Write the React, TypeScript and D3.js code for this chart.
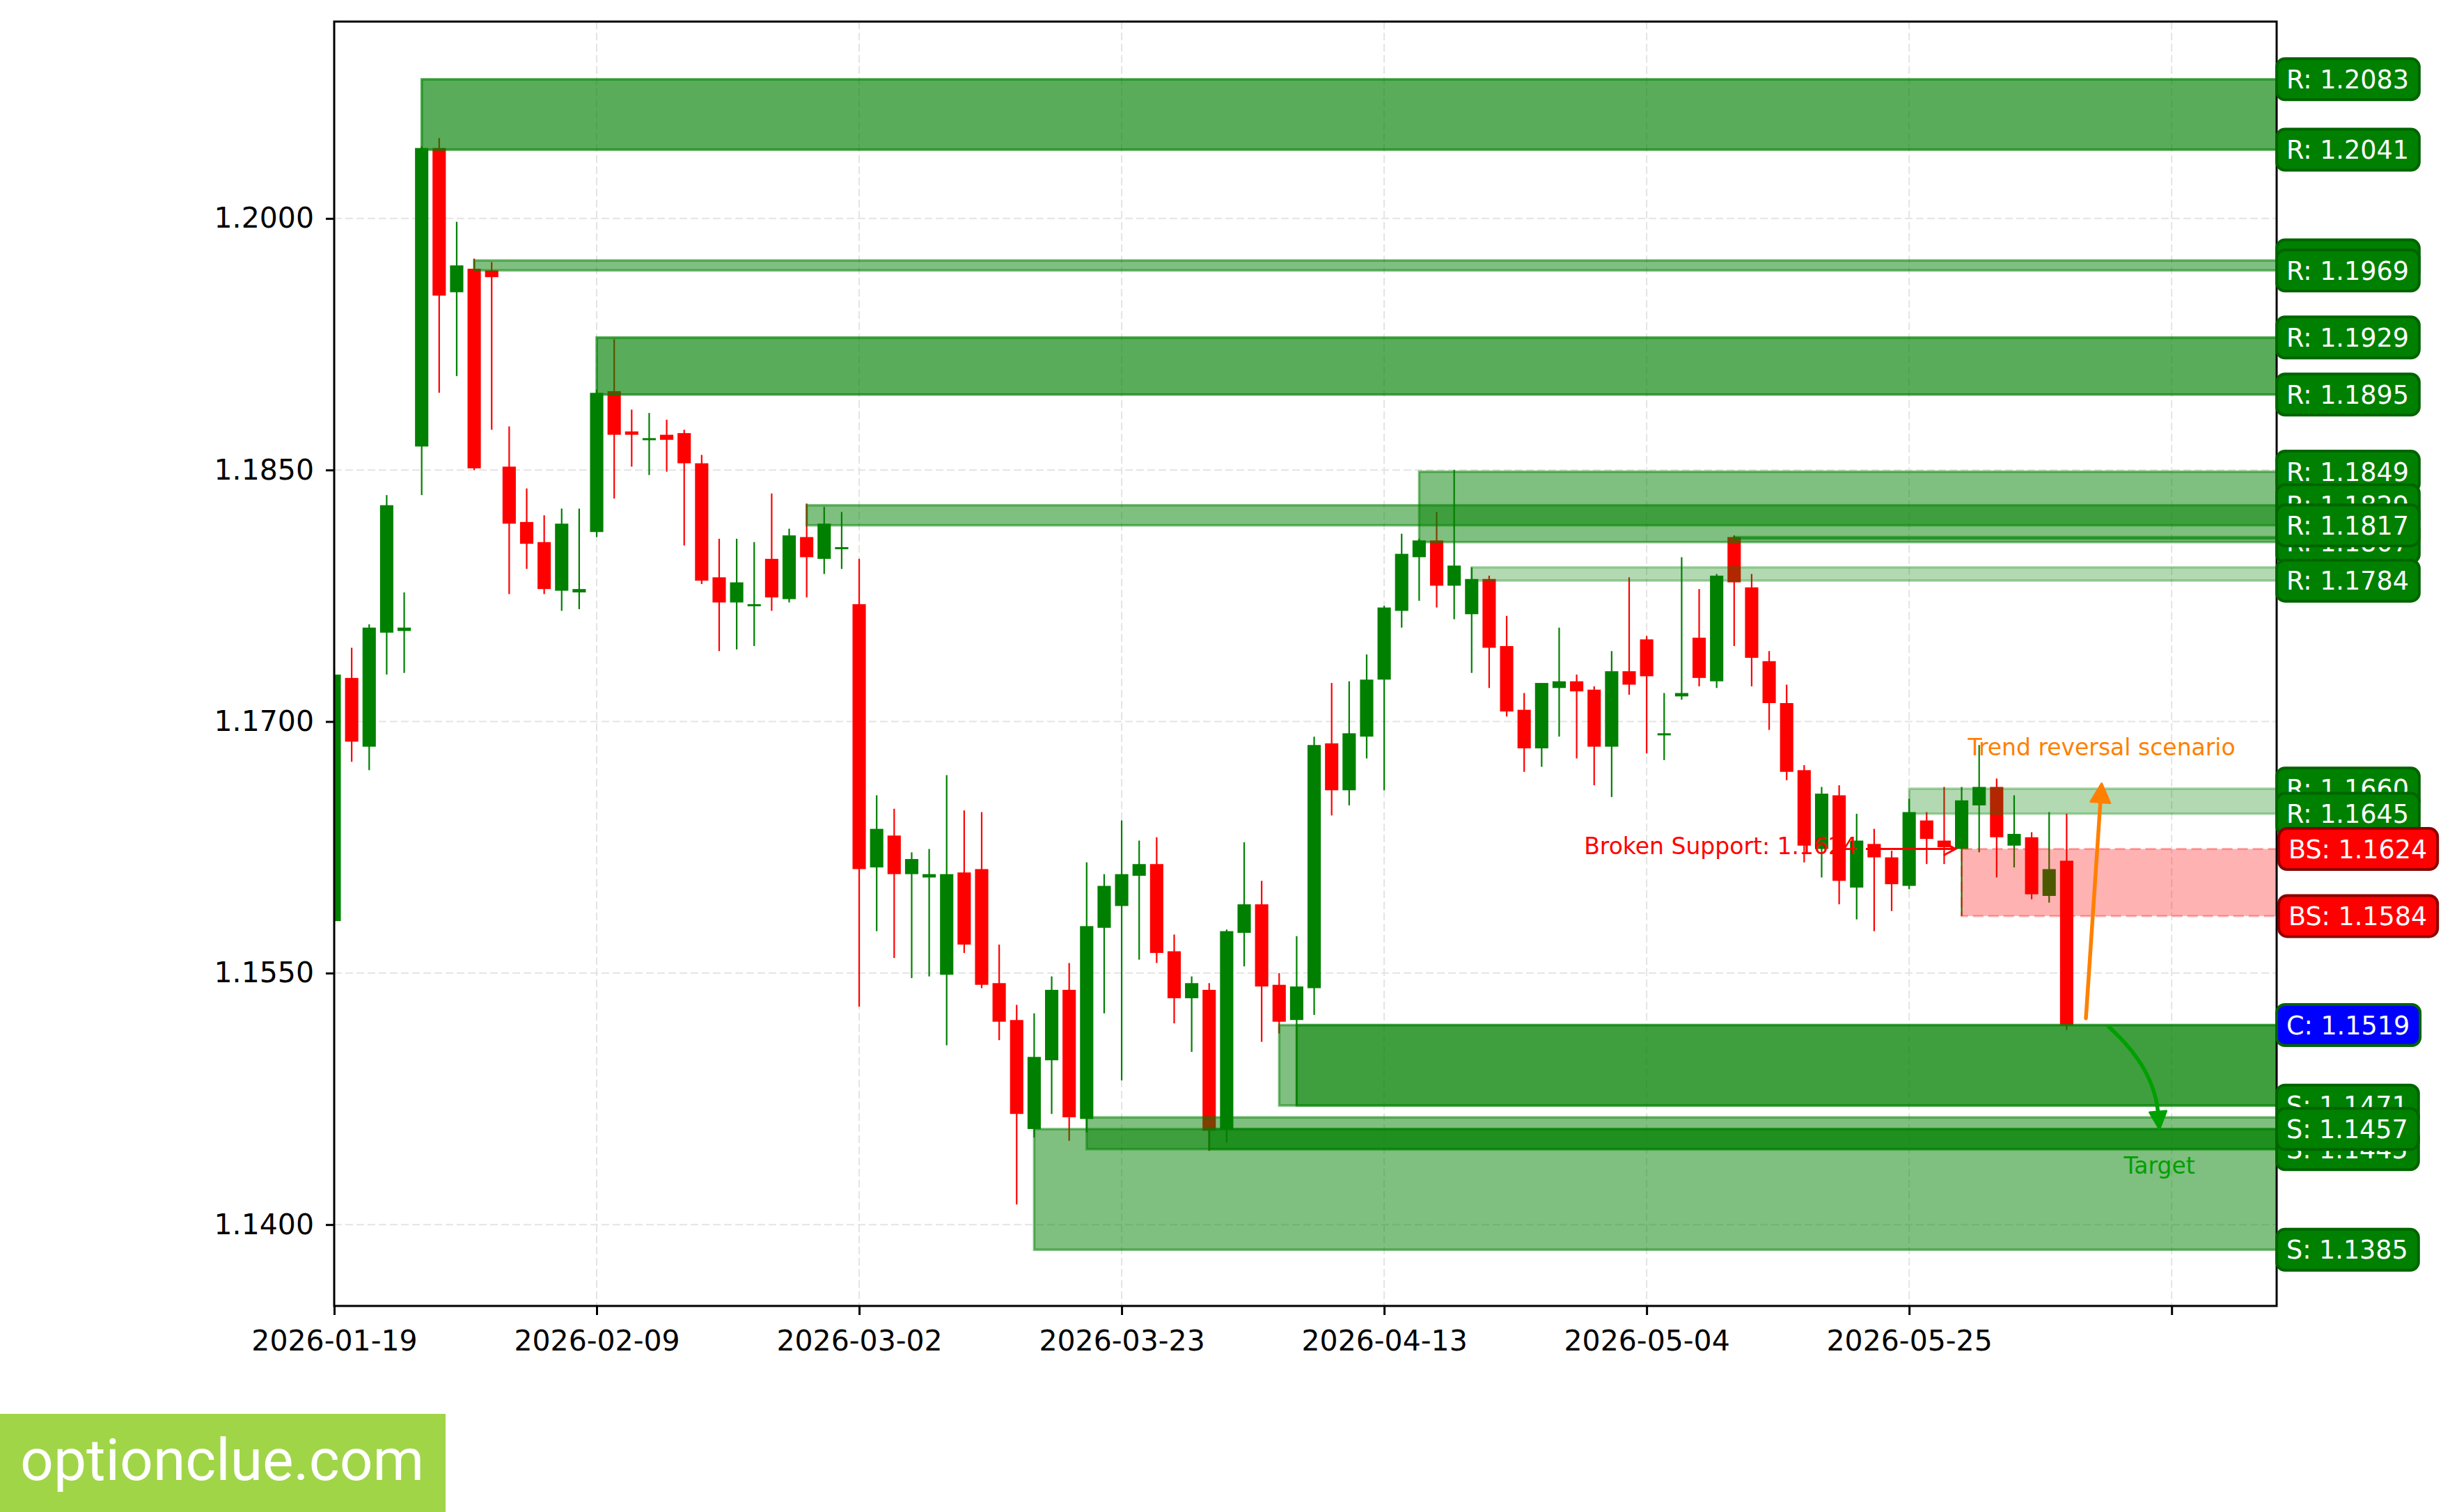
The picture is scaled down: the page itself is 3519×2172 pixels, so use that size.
import React, { useEffect, useRef } from "react";
import * as d3 from "d3";

const W = 3519;
const H = 2172;

// daily OHLC, one candle per trading day from 2026-01-19
const opens = [
  1.1581, 1.1726, 1.1685, 1.1753, 1.1754, 1.1864, 1.2042, 1.1956, 1.197, 1.1969,
  1.1852, 1.1819, 1.1807, 1.1778, 1.1777, 1.1813, 1.1897, 1.1873, 1.1868, 1.1871,
  1.1872, 1.1854, 1.1786, 1.1771, 1.1769, 1.1797, 1.1773, 1.181, 1.1797, 1.1803,
  1.177, 1.1613, 1.1632, 1.1609, 1.1607, 1.1549, 1.161, 1.1612, 1.1544, 1.1522,
  1.1457, 1.1498, 1.154, 1.1463, 1.1577, 1.159, 1.1608, 1.1615, 1.1563, 1.1535,
  1.154, 1.1457, 1.1574, 1.1591, 1.1543, 1.1522, 1.1541, 1.1687, 1.1659, 1.1691,
  1.1725, 1.1766, 1.1798, 1.1808, 1.1781, 1.1764, 1.1785, 1.1745, 1.1707, 1.1684,
  1.172, 1.1724, 1.1719, 1.1685, 1.173, 1.1749, 1.1692, 1.1715, 1.175, 1.1724,
  1.181, 1.178, 1.1736, 1.1711, 1.1671, 1.1624, 1.1656, 1.1601, 1.1627, 1.1619,
  1.1602, 1.1641, 1.1629, 1.1624, 1.165, 1.1661, 1.1626, 1.1631, 1.1596, 1.1617,
];
const highs = [
  1.1731, 1.1744, 1.1758, 1.1835, 1.1777, 1.2043, 1.2048, 1.1998, 1.1976, 1.1974,
  1.1876, 1.1839, 1.1823, 1.1827, 1.1827, 1.1898, 1.1928, 1.1886, 1.1884, 1.188,
  1.1874, 1.1859, 1.1809, 1.1809, 1.1807, 1.1836, 1.1815, 1.183, 1.1828, 1.1825,
  1.1797, 1.1656, 1.1648, 1.1622, 1.1624, 1.1668, 1.1647, 1.1646, 1.1567, 1.1531,
  1.1526, 1.1548, 1.1556, 1.1616, 1.1609, 1.1641, 1.1629, 1.1631, 1.1573, 1.1548,
  1.1544, 1.1576, 1.1628, 1.1605, 1.155, 1.1572, 1.1691, 1.1723, 1.1724, 1.174,
  1.1769, 1.1812, 1.1809, 1.1825, 1.185, 1.1792, 1.1787, 1.1763, 1.1717, 1.1723,
  1.1756, 1.1728, 1.1721, 1.1742, 1.1786, 1.1751, 1.1717, 1.1798, 1.1779, 1.1788,
  1.1811, 1.1788, 1.1742, 1.1722, 1.1674, 1.1661, 1.1662, 1.1645, 1.1636, 1.1623,
  1.1654, 1.1646, 1.1661, 1.1661, 1.1686, 1.1666, 1.1656, 1.1634, 1.1646, 1.1645,
];
const lows = [
  1.1578, 1.1676, 1.1671, 1.1728, 1.1729, 1.1835, 1.1896, 1.1906, 1.185, 1.1874,
  1.1776, 1.1791, 1.1776, 1.1766, 1.1767, 1.181, 1.1833, 1.1852, 1.1847, 1.1849,
  1.1805, 1.1782, 1.1742, 1.1743, 1.1745, 1.1766, 1.1771, 1.1774, 1.1788, 1.1791,
  1.153, 1.1575, 1.1559, 1.1547, 1.1548, 1.1507, 1.1562, 1.1541, 1.151, 1.1412,
  1.1452, 1.1466, 1.145, 1.1455, 1.1526, 1.1486, 1.1558, 1.1556, 1.152, 1.1503,
  1.1444, 1.1449, 1.1554, 1.1509, 1.1514, 1.1471, 1.1525, 1.1644, 1.165, 1.1678,
  1.1659, 1.1756, 1.1772, 1.1768, 1.1761, 1.1729, 1.172, 1.1703, 1.167, 1.1673,
  1.1691, 1.1678, 1.1662, 1.1655, 1.1716, 1.1681, 1.1677, 1.1713, 1.1721, 1.172,
  1.1745, 1.1721, 1.1695, 1.1665, 1.1616, 1.1607, 1.1591, 1.1582, 1.1575, 1.1587,
  1.16, 1.1615, 1.1615, 1.1584, 1.1622, 1.1607, 1.1613, 1.1594, 1.1592, 1.1516,
];
const closes = [
  1.1728, 1.1688, 1.1756, 1.1829, 1.1756, 1.2042, 1.1954, 1.1972, 1.1851, 1.1965,
  1.1818, 1.1806, 1.1779, 1.1818, 1.1779, 1.1896, 1.1871, 1.1871, 1.1869, 1.1868,
  1.1854, 1.1784, 1.1771, 1.1783, 1.177, 1.1774, 1.1811, 1.1798, 1.1818, 1.1804,
  1.1612, 1.1636, 1.1609, 1.1618, 1.1609, 1.1609, 1.1567, 1.1543, 1.1521, 1.1466,
  1.15, 1.154, 1.1464, 1.1578, 1.1602, 1.1609, 1.1615, 1.1562, 1.1535, 1.1544,
  1.1456, 1.1575, 1.1591, 1.1542, 1.1521, 1.1542, 1.1686, 1.1659, 1.1693, 1.1725,
  1.1768, 1.18, 1.1808, 1.1781, 1.1793, 1.1785, 1.1744, 1.1706, 1.1684, 1.1723,
  1.1724, 1.1718, 1.1685, 1.173, 1.1722, 1.1727, 1.1693, 1.1717, 1.1726, 1.1787,
  1.1783, 1.1738, 1.1711, 1.167, 1.1626, 1.1657, 1.1605, 1.1629, 1.1619, 1.1603,
  1.1646, 1.163, 1.1625, 1.1653, 1.1661, 1.1631, 1.1633, 1.1597, 1.1612, 1.1519,
];

const xTickIdx = [0, 15, 30, 45, 60, 75, 90, 105];
const xTickLabels = [
  "2026-01-19", "2026-02-09", "2026-03-02", "2026-03-23",
  "2026-04-13", "2026-05-04", "2026-05-25", "",
];
const yTicks = [1.14, 1.155, 1.17, 1.185, 1.2];

// support / resistance zones
const zoneStart = [5, 8, 15, 27, 62, 80, 65, 90, 54, 55, 40, 43, 50];
const zoneLow = [1.2041, 1.1969, 1.1895, 1.1817, 1.1807, 1.1809, 1.1784, 1.1645, 1.1471, 1.1471, 1.1385, 1.1445, 1.1445];
const zoneHigh = [1.2083, 1.1975, 1.1929, 1.1829, 1.1849, 1.181, 1.1792, 1.166, 1.1519, 1.1519, 1.1457, 1.1464, 1.1457];
const zoneAlpha = [0.65, 0.5, 0.65, 0.5, 0.5, 0.5, 0.3, 0.3, 0.5, 0.5, 0.5, 0.5, 0.5];

const bsStart = 93;
const bsLow = 1.1584;
const bsHigh = 1.1624;

const labelText = [
  "R: 1.2083", "R: 1.2041", "R: 1.1975", "R: 1.1969", "R: 1.1929", "R: 1.1895",
  "R: 1.1849", "R: 1.1829", "R: 1.1807", "R: 1.1817", "R: 1.1784",
  "R: 1.1660", "R: 1.1645", "BS: 1.1624", "BS: 1.1584", "C: 1.1519",
  "S: 1.1471", "S: 1.1445", "S: 1.1457", "S: 1.1385",
];
const labelPrice = [
  1.2083, 1.2041, 1.1975, 1.1969, 1.1929, 1.1895,
  1.1849, 1.1829, 1.1807, 1.1817, 1.1784,
  1.166, 1.1645, 1.1624, 1.1584, 1.1519,
  1.1471, 1.1445, 1.1457, 1.1385,
];
const labelKind = [
  "R", "R", "R", "R", "R", "R", "R", "R", "R", "R", "R",
  "R", "R", "BS", "BS", "C", "S", "S", "S", "S",
];

const font = "DejaVu Sans, sans-serif";

export default function App() {
  const ref = useRef<SVGSVGElement>(null);

  useEffect(() => {
    const svg = d3.select(ref.current!);
    svg.selectAll("*").remove();

    const x = d3.scaleLinear().domain([0, 111]).range([480, 3270]);
    const y = d3.scaleLinear().domain([1.13515, 1.21174]).range([1876, 31]);
    const [x0, x1] = x.range();
    const [y1, y0] = y.range();

    svg.append("rect").attr("width", W).attr("height", H).attr("fill", "#fff");
    svg.append("defs").append("clipPath").attr("id", "plotclip")
      .append("rect").attr("x", x0).attr("y", y0).attr("width", x1 - x0).attr("height", y1 - y0);

    const plot = svg.append("g").attr("clip-path", "url(#plotclip)");

    // grid
    plot.append("g").selectAll("line").data(yTicks).join("line")
      .attr("x1", x0).attr("x2", x1).attr("y1", d => y(d)).attr("y2", d => y(d))
      .attr("stroke", "#e4e4e4").attr("stroke-width", 2).attr("stroke-dasharray", "11 5");
    plot.append("g").selectAll("line").data(xTickIdx).join("line")
      .attr("x1", d => x(d)).attr("x2", d => x(d)).attr("y1", y0).attr("y2", y1)
      .attr("stroke", "#e4e4e4").attr("stroke-width", 2).attr("stroke-dasharray", "11 5");

    // candles
    const idx = d3.range(opens.length);
    const bw = (x(1) - x(0)) * 0.76;
    const col = (i: number) => (closes[i] >= opens[i] ? "#008000" : "#ff0000");
    const cg = plot.append("g");
    cg.selectAll("line").data(idx).join("line")
      .attr("x1", i => x(i)).attr("x2", i => x(i))
      .attr("y1", i => y(highs[i])).attr("y2", i => y(lows[i]))
      .attr("stroke", col).attr("stroke-width", 2.2);
    cg.selectAll("rect").data(idx).join("rect")
      .attr("x", i => x(i) - bw / 2).attr("width", bw)
      .attr("y", i => y(Math.max(opens[i], closes[i])))
      .attr("height", i => Math.max(3, Math.abs(y(opens[i]) - y(closes[i]))))
      .attr("fill", col);

    // zones (drawn over candles)
    plot.append("g").selectAll("rect").data(zoneStart.map((_, k) => k)).join("rect")
      .attr("x", k => x(zoneStart[k])).attr("width", k => x1 + 10 - x(zoneStart[k]))
      .attr("y", k => y(zoneHigh[k])).attr("height", k => y(zoneLow[k]) - y(zoneHigh[k]))
      .attr("fill", "#008000").attr("fill-opacity", k => zoneAlpha[k])
      .attr("stroke", "#008000").attr("stroke-opacity", k => zoneAlpha[k]).attr("stroke-width", 3.5);

    plot.append("rect")
      .attr("x", x(bsStart)).attr("width", x1 + 10 - x(bsStart))
      .attr("y", y(bsHigh)).attr("height", y(bsLow) - y(bsHigh))
      .attr("fill", "#ff0000").attr("fill-opacity", 0.3)
      .attr("stroke", "#ff0000").attr("stroke-opacity", 0.3).attr("stroke-width", 3)
      .attr("stroke-dasharray", "15 7");

    // broken support annotation
    const ann = svg.append("g");
    const yb = y(bsHigh);
    ann.append("text").attr("x", 2668).attr("y", yb + 7).attr("text-anchor", "end")
      .attr("font-family", font).attr("font-size", 33).attr("fill", "#ff0000")
      .text("Broken Support: 1.1624");
    const tipB = x(92.65);
    ann.append("line").attr("x1", 2680).attr("x2", tipB).attr("y1", yb).attr("y2", yb)
      .attr("stroke", "#ff0000").attr("stroke-width", 3);
    ann.append("path")
      .attr("d", `M${tipB - 17},${yb - 9}L${tipB},${yb}L${tipB - 17},${yb + 9}`)
      .attr("fill", "none").attr("stroke", "#ff0000").attr("stroke-width", 3);

    // trend reversal arrow
    const orange = "#ff8000";
    ann.append("text").attr("x", x(101)).attr("y", y(1.168)).attr("text-anchor", "middle")
      .attr("font-family", font).attr("font-size", 33).attr("fill", orange)
      .text("Trend reversal scenario");
    {
      const t0 = [x(100.1), y(1.1523)];
      const t1 = [x(101.0), y(1.1663)];
      const dx = t1[0] - t0[0], dy = t1[1] - t0[1];
      const len = Math.hypot(dx, dy);
      const ux = dx / len, uy = dy / len;
      const L = 27, hw = 14;
      const bx = t1[0] - ux * L, by = t1[1] - uy * L;
      ann.append("line").attr("x1", t0[0]).attr("y1", t0[1]).attr("x2", bx + ux * 4).attr("y2", by + uy * 4)
        .attr("stroke", orange).attr("stroke-width", 5.5).attr("stroke-linecap", "round");
      ann.append("path")
        .attr("d", `M${t1[0]},${t1[1]}L${bx - uy * hw},${by + ux * hw}L${bx + uy * hw},${by - ux * hw}Z`)
        .attr("fill", orange).attr("stroke", orange).attr("stroke-width", 3).attr("stroke-linejoin", "round");
    }

    // target arrow
    const tgreen = "#00a000";
    {
      const s = [x(101.4), y(1.1518)];
      const e = [x(104.3), y(1.1457)];
      const dx = e[0] - s[0], dy = e[1] - s[1];
      const len = Math.hypot(dx, dy);
      const cx = (s[0] + e[0]) / 2 + (dy / len) * 0.2 * len;
      const cy = (s[1] + e[1]) / 2 - (dx / len) * 0.2 * len;
      const tx = e[0] - cx, ty = e[1] - cy;
      const tl = Math.hypot(tx, ty);
      const ux = tx / tl, uy = ty / tl;
      const L = 25, hw = 12;
      const bx = e[0] - ux * L, by = e[1] - uy * L;
      ann.append("path").attr("d", `M${s[0]},${s[1]}Q${cx},${cy} ${bx + ux * 3},${by + uy * 3}`)
        .attr("fill", "none").attr("stroke", tgreen).attr("stroke-width", 5.5).attr("stroke-linecap", "round");
      ann.append("path")
        .attr("d", `M${e[0]},${e[1]}L${bx - uy * hw},${by + ux * hw}L${bx + uy * hw},${by - ux * hw}Z`)
        .attr("fill", tgreen).attr("stroke", tgreen).attr("stroke-width", 3).attr("stroke-linejoin", "round");
      ann.append("text").attr("x", e[0]).attr("y", y(1.14305)).attr("text-anchor", "middle")
        .attr("font-family", font).attr("font-size", 33).attr("fill", tgreen).text("Target");
    }

    // frame
    svg.append("rect").attr("x", x0).attr("y", y0).attr("width", x1 - x0).attr("height", y1 - y0)
      .attr("fill", "none").attr("stroke", "#000").attr("stroke-width", 3);

    // axes
    const ay = svg.append("g").attr("transform", `translate(${x0},0)`)
      .call(d3.axisLeft(y).tickValues(yTicks).tickFormat(d3.format(".4f")).tickSize(12).tickPadding(17));
    ay.select(".domain").remove();
    ay.attr("font-size", 41).attr("font-family", font);
    ay.selectAll("line").attr("stroke", "#000").attr("stroke-width", 3);

    const axb = svg.append("g").attr("transform", `translate(0,${y1})`)
      .call(d3.axisBottom(x).tickValues(xTickIdx).tickFormat((_, i) => xTickLabels[i]).tickSize(13).tickPadding(22));
    axb.select(".domain").remove();
    axb.attr("font-size", 41).attr("font-family", font);
    axb.selectAll("line").attr("stroke", "#000").attr("stroke-width", 3);

    // right-side price labels
    const fills: Record<string, string> = { R: "#008000", S: "#008000", BS: "#ff0000", C: "#0000ff" };
    const edges: Record<string, string> = { R: "#006400", S: "#006400", BS: "#8b0000", C: "#006400" };
    const lg = svg.append("g");
    labelText.forEach((t, k) => {
      const kind = labelKind[k];
      const g = lg.append("g");
      const yy = y(labelPrice[k]);
      const tx = kind === "BS" ? 3287 : 3284;
      const rect = g.append("rect");
      const txt = g.append("text").attr("x", tx).attr("y", yy).attr("dy", "0.36em")
        .attr("font-family", font).attr("font-size", 36.5).attr("fill", "#fff").text(t);
      const tw = (txt.node() as SVGTextElement).getComputedTextLength();
      rect.attr("x", tx - 14).attr("y", yy - 29.5).attr("width", tw + 29).attr("height", 59)
        .attr("rx", 12).attr("fill", fills[kind]).attr("stroke", edges[kind]).attr("stroke-width", 4);
    });

    // watermark
    svg.append("rect").attr("x", 0).attr("y", 2031).attr("width", 640).attr("height", H - 2031).attr("fill", "#a0d548");
    svg.append("text").attr("x", 29).attr("y", 2126).attr("font-family", "Roboto, sans-serif")
      .attr("font-size", 84).attr("fill", "#fff").text("optionclue.com");
  }, []);

  return (
    <>
      <style>{`body{margin:0;overflow:hidden}`}</style>
      <svg ref={ref} width={W} height={H} style={{ display: "block" }} />
    </>
  );
}
